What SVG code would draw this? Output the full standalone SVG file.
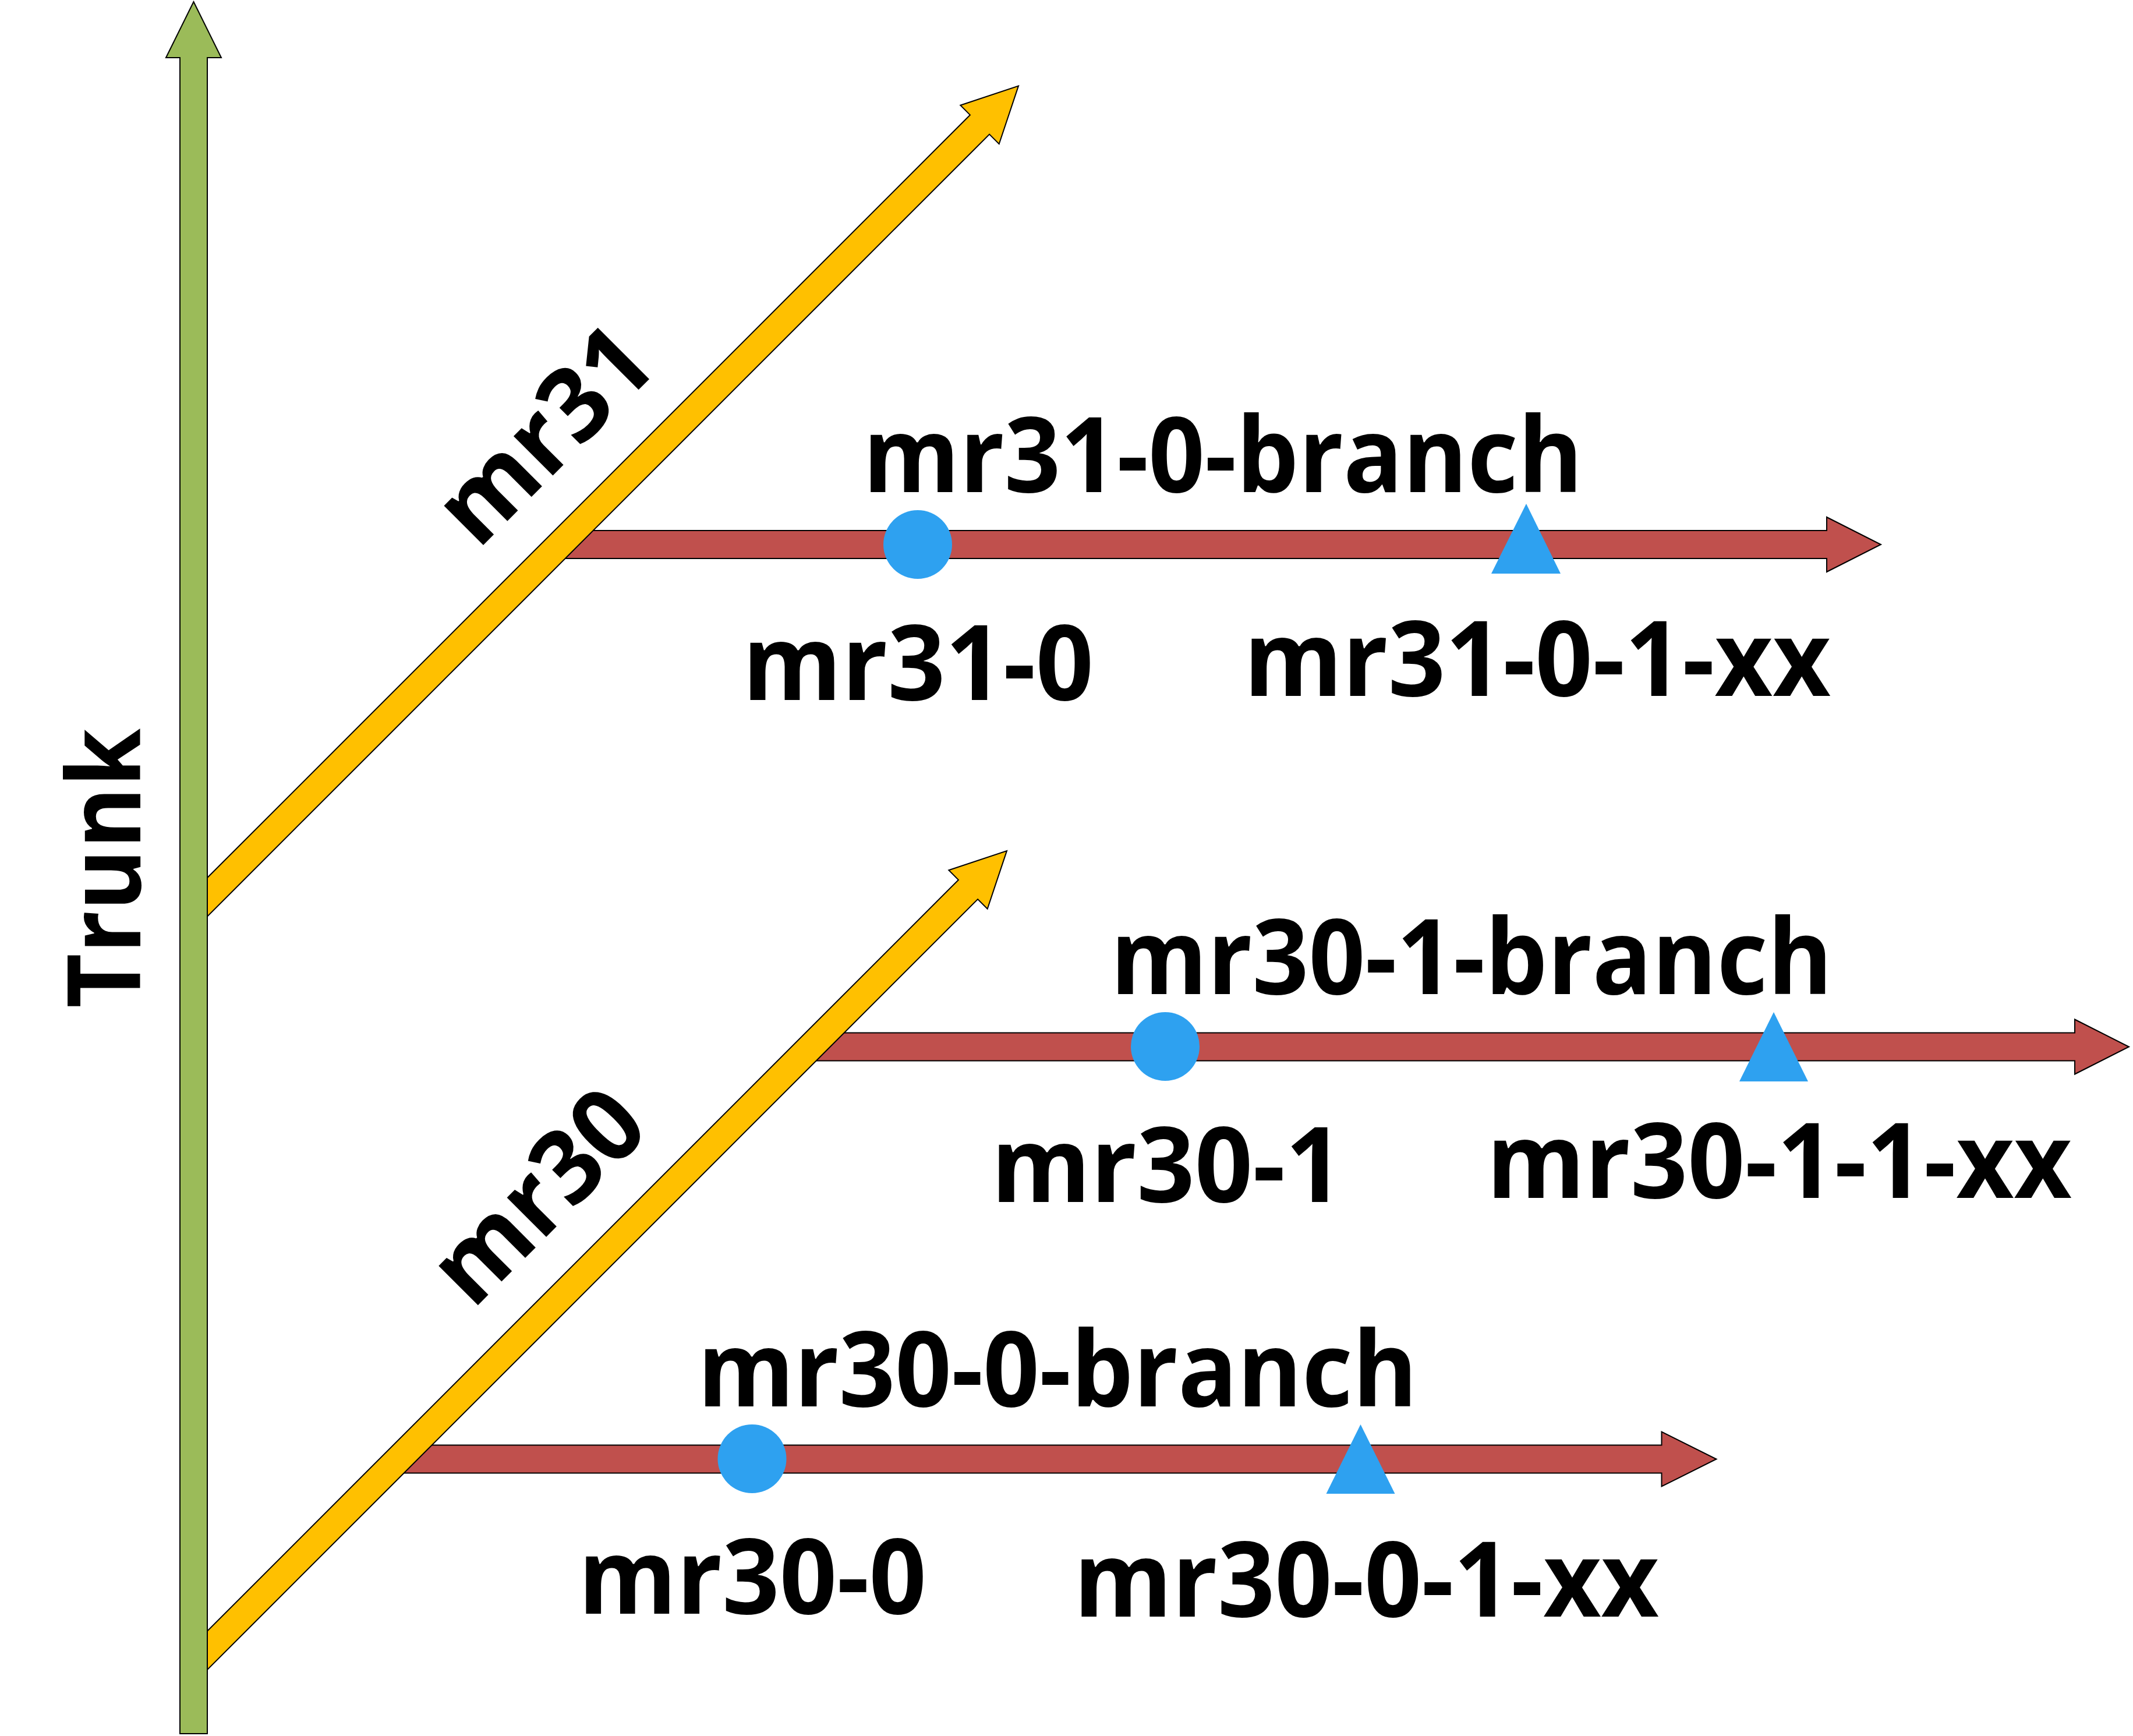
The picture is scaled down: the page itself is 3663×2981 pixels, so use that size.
<svg xmlns="http://www.w3.org/2000/svg" width="3663" height="2981" viewBox="0 0 3663 2981">
<style>
.bg{fill:#FFFFFF}
.trunk{fill:#9BBB59;stroke:#000;stroke-width:2;stroke-linejoin:miter}
.rel{fill:#FFC000;stroke:#000;stroke-width:2;stroke-linejoin:miter}
.br{fill:#C0504D;stroke:#000;stroke-width:2;stroke-linejoin:miter}
.mk{fill:#2EA1F0;stroke:none}
.lbl{font-family:"Open Sans","Liberation Sans",sans-serif;font-weight:700;font-size:179px;fill:#000}
.rlbl{font-family:"Open Sans","Liberation Sans",sans-serif;font-weight:700;font-size:175px;fill:#000}
</style>
<rect class="bg" x="0" y="0" width="3663" height="2981"/>
<g id="connectors">
  <g id="branch-mr31-0">
    <polygon class="br" points="937.5,959 985.5,911 3137,911 3137,888 3230,935 3137,982 3137,959"/>
  </g>
  <g id="branch-mr30-1">
    <polygon class="br" points="1368.5,1821.5 1416.5,1773.5 3563,1773.5 3563,1750.5 3656,1797.5 3563,1844.5 3563,1821.5"/>
  </g>
  <g id="branch-mr30-0">
    <polygon class="br" points="660.5,2529.5 708.5,2481.5 2853.5,2481.5 2853.5,2458.5 2947.5,2505.5 2853.5,2552.5 2853.5,2529.5"/>
  </g>
  <g id="release-mr31">
    <polygon class="rel" points="340,1523.3 1665.9,197.4 1649.3,180.8 1749,147.5 1715.7,247.2 1699.1,230.6 340,1589.7"/>
  </g>
  <g id="release-mr30">
    <polygon class="rel" points="340,2816.8 1645.9,1510.9 1629.3,1494.3 1729,1461 1695.7,1560.7 1679.1,1544.1 340,2883.2"/>
  </g>
  <g id="trunk">
    <polygon class="trunk" points="309,2977 309,99 285,99 332.5,3 380,99 356,99 356,2977"/>
  </g>
</g>
<g id="node-mr31-0">
  <circle class="mk" cx="1576" cy="935" r="59"/>
  <text class="lbl" x="1275" y="1202" textLength="603" lengthAdjust="spacingAndGlyphs">mr31-0</text>
</g>
<g id="node-mr31-0-1-xx">
  <polygon class="mk" points="2621,865 2680,985 2561,985"/>
  <text class="lbl" x="2136" y="1195" textLength="1008" lengthAdjust="spacingAndGlyphs">mr31-0-1-xx</text>
</g>
<g id="label-mr31-0-branch">
  <text class="lbl" x="1482" y="845" textLength="1236" lengthAdjust="spacingAndGlyphs">mr31-0-branch</text>
</g>
<g id="node-mr30-1">
  <circle class="mk" cx="2001" cy="1797" r="59"/>
  <text class="lbl" x="1702" y="2064" textLength="605" lengthAdjust="spacingAndGlyphs">mr30-1</text>
</g>
<g id="node-mr30-1-1-xx">
  <polygon class="mk" points="3046,1738 3105,1857 2987,1857"/>
  <text class="lbl" x="2553" y="2057" textLength="1005" lengthAdjust="spacingAndGlyphs">mr30-1-1-xx</text>
</g>
<g id="label-mr30-1-branch">
  <text class="lbl" x="1907" y="1707" textLength="1240" lengthAdjust="spacingAndGlyphs">mr30-1-branch</text>
</g>
<g id="node-mr30-0">
  <circle class="mk" cx="1291.5" cy="2505" r="59"/>
  <text class="lbl" x="993" y="2771" textLength="598" lengthAdjust="spacingAndGlyphs">mr30-0</text>
</g>
<g id="node-mr30-0-1-xx">
  <polygon class="mk" points="2336.5,2446 2395.5,2565 2277.5,2565"/>
  <text class="lbl" x="1844" y="2776" textLength="1005" lengthAdjust="spacingAndGlyphs">mr30-0-1-xx</text>
</g>
<g id="label-mr30-0-branch">
  <text class="lbl" x="1198" y="2415" textLength="1236" lengthAdjust="spacingAndGlyphs">mr30-0-branch</text>
</g>
<g id="label-mr31">
  <text class="rlbl" transform="translate(820.5,945.5) rotate(-45)" x="0" y="0" textLength="444" lengthAdjust="spacingAndGlyphs">mr31</text>
</g>
<g id="label-mr30">
  <text class="rlbl" transform="translate(811.5,2250.5) rotate(-45)" x="0" y="0" textLength="436" lengthAdjust="spacingAndGlyphs">mr30</text>
</g>
<g id="label-trunk">
  <text class="rlbl" transform="translate(241,1731) rotate(-90)" x="0" y="0" textLength="480" lengthAdjust="spacingAndGlyphs">Trunk</text>
</g>
</svg>
